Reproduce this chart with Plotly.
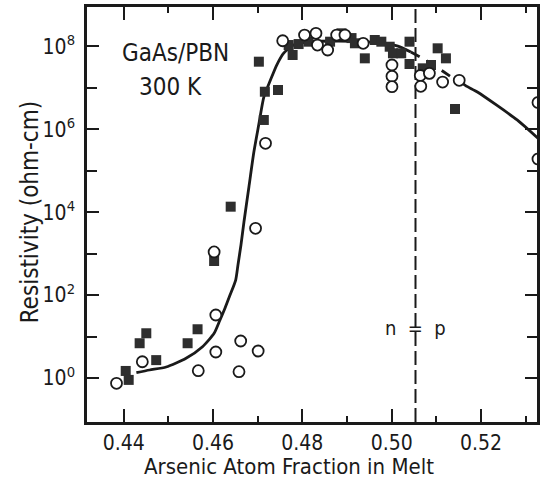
import plotly.graph_objects as go

# ---------------- data ----------------
# filled squares
sq_x = [0.44044, 0.44111, 0.44356, 0.44505, 0.44727, 0.45430, 0.45653, 0.46024,
        0.46395, 0.47137, 0.47160, 0.47455, 0.47026, 0.47782, 0.47693, 0.47916,
        0.48138, 0.48621, 0.48879, 0.49101, 0.49177, 0.49399, 0.49622, 0.49769,
        0.49956, 0.50029, 0.50214, 0.50400, 0.50400, 0.50696, 0.50881, 0.51030,
        0.51215, 0.51419]
sq_y = [1.48, 0.90, 6.9, 12, 2.7, 6.9, 15, 665,
        1.36e4, 1.68e6, 8.07e6, 8.87e6, 4.28e7, 6.21e7, 1.08e8, 1.14e8,
        1.30e8, 1.30e8, 2.07e8, 1.59e8, 1.19e8, 5.16e7, 1.43e8, 1.30e8,
        9.84e7, 6.82e7, 6.82e7, 1.30e8, 3.76e7, 2.96e7, 3.56e7, 9.0e7,
        5.16e7, 3.09e6]

# open circles
ci_x = [0.43838, 0.44416, 0.45669, 0.46062, 0.46062, 0.46619, 0.47010, 0.46581,
        0.46024, 0.46952, 0.47175, 0.47560, 0.48049, 0.48305, 0.48338, 0.48567,
        0.48768, 0.48954, 0.49362, 0.50007, 0.50007, 0.50007, 0.50641, 0.50652,
        0.50845, 0.51141, 0.51513, 0.53277, 0.53277]
ci_y = [0.745, 2.47, 1.50, 33.1, 4.24, 7.81, 4.48, 1.42,
        1.10e3, 4.09e3, 4.59e5, 1.37e8, 1.88e8, 2.07e8, 1.08e8, 8.19e7,
        1.88e8, 1.88e8, 1.19e8, 3.56e7, 1.90e7, 1.07e7, 1.99e7, 1.09e7,
        2.24e7, 1.38e7, 1.52e7, 4.43e6, 1.92e5]

# guide curve (solid part)
curve_x = [0.44283, 0.44578, 0.44950, 0.45395, 0.45764, 0.46024, 0.46136, 0.46269,
           0.46380, 0.46507, 0.46558, 0.46625, 0.46692, 0.46803, 0.46914, 0.47026,
           0.47137, 0.47286, 0.47426, 0.47582, 0.47804, 0.48138, 0.48805, 0.49473,
           0.50140, 0.50429]
curve_y = [1.34, 1.56, 1.84, 2.99, 5.69, 12.0, 22.4, 48.8,
           100, 231, 533, 1.62e3, 5.8e3, 4.06e4, 2.83e5, 1.34e6,
           6.0e6, 1.55e7, 3.56e7, 6.9e7, 1.08e8, 1.28e8, 1.35e8, 1.28e8,
           1.02e8, 7.3e7]
# dashed continuation
dash_x = [0.50429, 0.50763, 0.51163, 0.51326, 0.51520]
dash_y = [7.3e7, 4.7e7, 2.45e7, 1.86e7, 1.42e7]
# solid tail
tail_x = [0.51520, 0.51697, 0.51920, 0.52810, 0.53366]
tail_y = [1.42e7, 1.07e7, 7.94e6, 1.68e6, 4.94e5]

np_line_x = 0.50534  # n = p composition

x_ticks = [0.44, 0.46, 0.48, 0.50, 0.52]
x_ticktext = ["0.44", "0.46", "0.48", "0.50", "0.52"]
y_ticks = [1, 1e2, 1e4, 1e6, 1e8]
y_ticktext = ["10<sup>0</sup>", "10<sup>2</sup>", "10<sup>4</sup>",
              "10<sup>6</sup>", "10<sup>8</sup>"]
y_minor = [10, 1e3, 1e5, 1e7]

FONT = "DejaVu Sans Condensed, Liberation Sans Narrow, DejaVu Sans, sans-serif"
INK = "#1a1a1a"

fig = go.Figure()
fig.add_trace(go.Scatter(x=curve_x, y=curve_y, mode="lines",
                         line=dict(color=INK, width=2.8, shape="spline", smoothing=0.6),
                         hoverinfo="skip"))
fig.add_trace(go.Scatter(x=dash_x, y=dash_y, mode="lines",
                         line=dict(color=INK, width=2.8, dash="10px,8px"), hoverinfo="skip"))
fig.add_trace(go.Scatter(x=tail_x, y=tail_y, mode="lines",
                         line=dict(color=INK, width=2.8, shape="spline", smoothing=0.6),
                         hoverinfo="skip"))
fig.add_trace(go.Scatter(x=sq_x, y=sq_y, mode="markers",
                         marker=dict(symbol="square", size=10, color="#2e2e2e",
                                     line=dict(width=0))))
fig.add_trace(go.Scatter(x=ci_x, y=ci_y, mode="markers",
                         marker=dict(symbol="circle", size=11, color="white",
                                     line=dict(color=INK, width=1.8))))

fig.add_shape(type="line", x0=np_line_x, x1=np_line_x, y0=0, y1=1,
              xref="x", yref="paper", layer="below",
              line=dict(color=INK, width=2, dash="14px,5px"))

fig.add_annotation(text="GaAs/PBN", x=0.0728, y=0.889, xref="paper", yref="paper",
                   xanchor="left", yanchor="middle", showarrow=False,
                   font=dict(family=FONT, size=24, color=INK))
fig.add_annotation(text="300 K", x=0.110, y=0.807, xref="paper", yref="paper",
                   xanchor="left", yanchor="middle", showarrow=False,
                   font=dict(family=FONT, size=24, color=INK))
fig.add_annotation(text="n\u00a0\u00a0=\u00a0\u00a0p", x=np_line_x, y=0.2265, xref="x", yref="paper",
                   xanchor="center", yanchor="middle", showarrow=False,
                   font=dict(family=FONT, size=20, color=INK))
fig.add_annotation(text="Arsenic Atom Fraction in Melt", x=0.448, y=-0.108,
                   xref="paper", yref="paper", xanchor="center", yanchor="middle",
                   showarrow=False, font=dict(family=FONT, size=22, color=INK))
fig.add_annotation(text="Resistivity (ohm-cm)", x=-0.126, y=0.506,
                   xref="paper", yref="paper", xanchor="center", yanchor="middle",
                   textangle=-90, showarrow=False,
                   font=dict(family=FONT, size=24, color=INK))

fig.update_xaxes(range=[0.43177, 0.53255], tickvals=x_ticks, ticktext=x_ticktext,
                 ticks="inside", ticklen=13, tickwidth=2, tickcolor=INK,
                 showline=True, linewidth=2.5, linecolor=INK, mirror="ticks",
                 showgrid=False, zeroline=False,
                 tickfont=dict(family=FONT, size=21, color=INK),
                 minor=dict(dtick=0.01, tick0=0.44, ticks="inside", ticklen=6,
                            tickwidth=2, tickcolor=INK, showgrid=False))
fig.update_yaxes(type="log", range=[-1.0615, 8.951], tickvals=y_ticks, ticktext=y_ticktext,
                 ticks="inside", ticklen=12, tickwidth=2, tickcolor=INK,
                 showline=True, linewidth=2.5, linecolor=INK, mirror="ticks",
                 showgrid=False, zeroline=False, ticklabelstandoff=5,
                 tickfont=dict(family=FONT, size=21, color=INK),
                 minor=dict(tickvals=y_minor, ticks="inside", ticklen=10,
                            tickwidth=2, tickcolor=INK, showgrid=False))

fig.update_layout(width=540, height=487, showlegend=False,
                  margin=dict(l=87, r=0, t=7, b=65),
                  paper_bgcolor="white", plot_bgcolor="white",
                  font=dict(family=FONT, color=INK))

fig.write_html("out.html", config={"displayModeBar": False},
               post_script="document.body.style.margin='0';document.body.style.overflow='hidden';")
